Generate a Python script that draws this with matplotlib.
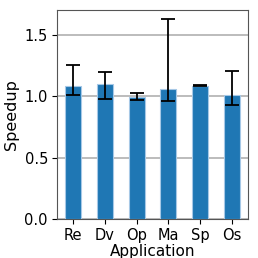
import numpy as np
import matplotlib
matplotlib.use('Agg')
import matplotlib.pyplot as plt

# --- Dados ---
apps = ['Re', 'Dv', 'Op', 'Ma', 'Sp', 'Os']
speedup = [1.08, 1.10, 0.995, 1.057, 1.085, 1.008]
err_low = [1.005, 0.978, 0.97, 0.956, 1.085, 0.927]
err_high = [1.25, 1.198, 1.024, 1.624, 1.09, 1.206]

yerr = np.array([
    [s - lo for s, lo in zip(speedup, err_low)],
    [hi - s for s, hi in zip(speedup, err_high)],
])

fig = plt.figure(figsize=(2.58, 2.58), dpi=100)
ax = fig.add_axes([57 / 258, 39 / 258, 191 / 258, 209 / 258])

x = np.arange(len(apps))
ax.bar(x, speedup, width=0.5, color='#1f77b4', edgecolor='#a6c8e6', linewidth=0.8,
       yerr=yerr, capsize=5, error_kw={'elinewidth': 1.3, 'capthick': 1.3, 'ecolor': 'black'},
       zorder=3)

ax.set_xlim(-0.5, len(apps) - 0.5)
ax.set_ylim(0, 1.7)
ax.set_yticks([0.0, 0.5, 1.0, 1.5])
ax.set_xticks(x)
ax.set_xticklabels(apps)
ax.yaxis.grid(True, color='#b0b0b0', linewidth=1.2, zorder=0)
ax.set_axisbelow(True)
for s in ax.spines.values():
    s.set_color('#555555')
ax.tick_params(labelsize=10.5, length=3.5, pad=3)
ax.set_xlabel('Application', fontsize=11, labelpad=0.5)
ax.set_ylabel('Speedup', fontsize=11.5, labelpad=4)

plt.savefig('out.png', dpi=100)
